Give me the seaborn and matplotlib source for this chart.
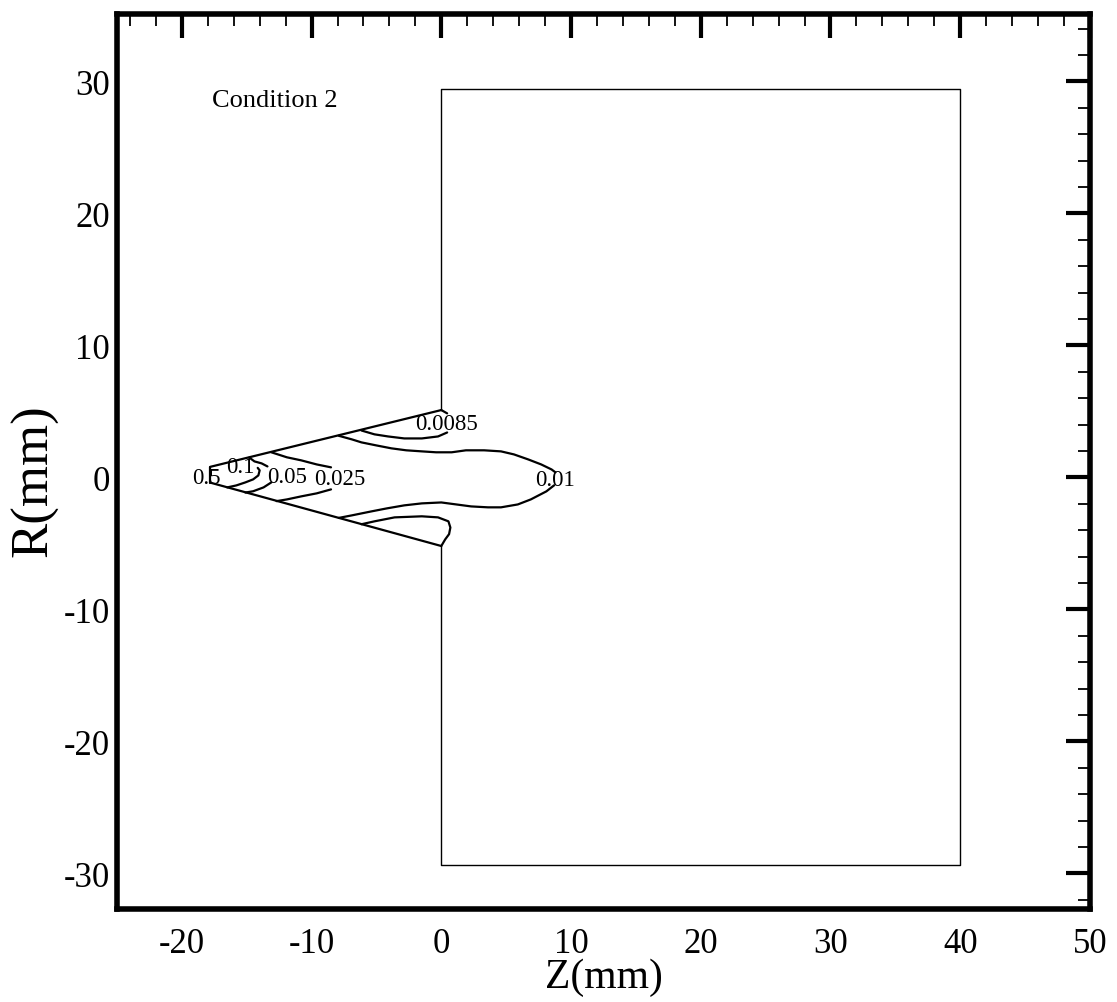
import pandas as pd
import matplotlib
matplotlib.use("Agg")
import matplotlib.pyplot as plt
from matplotlib.ticker import MultipleLocator
import seaborn as sns

# ---- geometry (z, r in mm) ----
wedge_upper_z = [-17.8, 0.0]
wedge_upper_r = [0.8, 5.1]
wedge_lower_z = [-17.8, 0.0]
wedge_lower_r = [-0.4, -5.2]
inlet_z = [-17.8, -17.8]
inlet_r = [0.8, -0.4]
chamber_z = [0.0, 0.0, 40.0, 40.0, 0.0, 0.0]
chamber_r = [5.1, 29.4, 29.4, -29.4, -29.4, -5.2]

# ---- contour lines (broken where the level labels sit) ----
c01_z = [-14.15, -14.0, -14.1, -14.5, -15.1, -15.8, -16.5]
c01_r = [0.72, 0.53, 0.15, -0.15, -0.38, -0.61, -0.76]

c005_up_z = [-14.8, -14.4, -13.85, -13.4]
c005_up_r = [1.5, 1.21, 1.06, 0.83]
c005_lo_z = [-13.1, -13.7, -14.5, -15.1]
c005_lo_r = [-0.38, -0.76, -1.05, -1.15]

c0025_up_z = [-13.1, -11.9, -10.8, -9.6, -8.5]
c0025_up_r = [1.9, 1.52, 1.29, 0.98, 0.76]
c0025_lo_z = [-8.5, -9.6, -10.8, -11.9, -12.7]
c0025_lo_r = [-0.91, -1.21, -1.44, -1.67, -1.8]

c001_up_z = [-7.9, -6.9, -6.15, -5.0, -3.85, -2.7, -1.5, -0.4, 0.8, 1.9, 3.3,
             4.6, 5.6, 6.7, 7.7, 8.5, 8.8]
c001_up_r = [3.15, 2.88, 2.65, 2.42, 2.2, 2.05, 1.97, 1.9, 1.9, 2.05, 2.05,
             1.97, 1.74, 1.36, 0.98, 0.6, 0.38]
c001_lo_z = [8.7, 8.1, 6.9, 5.9, 4.6, 3.6, 2.3, 1.15, 0.0, -1.5, -2.85, -4.2,
             -5.4, -6.9, -7.9]
c001_lo_r = [-0.6, -1.06, -1.67, -2.05, -2.27, -2.27, -2.2, -2.05, -1.9, -1.97,
             -2.12, -2.35, -2.58, -2.88, -3.07]

c00085_up_z = [-6.15, -5.15, -4.1, -2.85, -1.5, -0.25, 0.45]
c00085_up_r = [3.55, 3.26, 3.1, 2.95, 2.95, 3.1, 3.4]
c00085_tip_z = [0.0, 0.45]
c00085_tip_r = [5.1, 4.85]
c00085_lo_z = [-6.15, -5.15, -3.6, -1.5, -0.25, 0.55, 0.7, 0.6, 0.3, 0.0]
c00085_lo_r = [-3.55, -3.33, -3.03, -2.95, -3.03, -3.33, -3.8, -4.3, -4.7, -5.2]

# ---- level labels ----
level_text = ["0.5", "0.1", "0.05", "0.025", "0.0085", "0.01"]
level_z = [-18.1, -15.5, -11.9, -7.8, 0.42, 8.8]
level_r = [0.0, 0.83, 0.05, -0.1, 4.1, -0.15]

panel_title = "Condition 2"
x_ticks = [-20, -10, 0, 10, 20, 30, 40, 50]
y_ticks = [-30, -20, -10, 0, 10, 20, 30]


def segments_frame(pairs):
    rows = []
    for name, zs, rs in pairs:
        for z, r in zip(zs, rs):
            rows.append({"z": z, "r": r, "seg": name})
    return pd.DataFrame(rows)


lines_df = segments_frame([
    ("wedge_upper", wedge_upper_z, wedge_upper_r),
    ("wedge_lower", wedge_lower_z, wedge_lower_r),
    ("inlet", inlet_z, inlet_r),
    ("c01", c01_z, c01_r),
    ("c005_up", c005_up_z, c005_up_r),
    ("c005_lo", c005_lo_z, c005_lo_r),
    ("c0025_up", c0025_up_z, c0025_up_r),
    ("c0025_lo", c0025_lo_z, c0025_lo_r),
    ("c001_up", c001_up_z, c001_up_r),
    ("c001_lo", c001_lo_z, c001_lo_r),
    ("c00085_up", c00085_up_z, c00085_up_r),
    ("c00085_tip", c00085_tip_z, c00085_tip_r),
    ("c00085_lo", c00085_lo_z, c00085_lo_r),
])
chamber_df = segments_frame([("chamber", chamber_z, chamber_r)])

sns.set_style("white")
plt.rcParams["font.family"] = ["Liberation Serif", "DejaVu Serif"]
plt.rcParams["axes.unicode_minus"] = False

fig = plt.figure(figsize=(11.17, 10.03), dpi=100)
ax = fig.add_axes([0.1047, 0.0927, 0.8711, 0.8923])

sns.lineplot(data=chamber_df, x="z", y="r", units="seg", estimator=None,
             sort=False, color="black", linewidth=1.0, ax=ax, legend=False)
sns.lineplot(data=lines_df, x="z", y="r", units="seg", estimator=None,
             sort=False, color="black", linewidth=1.6, ax=ax, legend=False)

for t, z, r in zip(level_text, level_z, level_r):
    ax.text(z, r, t, ha="center", va="center", fontsize=16.5, color="black")

ax.text(-17.7, 28.6, panel_title, ha="left", va="center", fontsize=19,
        color="black")

ax.set_xlim(-25, 50)
ax.set_ylim(-32.7, 35.1)
ax.set_xticks(x_ticks)
ax.set_yticks(y_ticks)
ax.xaxis.set_minor_locator(MultipleLocator(2))
ax.yaxis.set_minor_locator(MultipleLocator(2))
ax.tick_params(which="both", direction="in", top=True, right=True,
               colors="black", labelsize=25, labelcolor="black")
ax.tick_params(which="major", length=17, width=3)
ax.tick_params(which="minor", length=8.5, width=1.3)
ax.tick_params(axis="x", which="major", pad=13)
ax.tick_params(axis="y", which="major", pad=5)
for s in ax.spines.values():
    s.set_linewidth(4)
    s.set_color("black")

ax.set_xlabel("Z(mm)", fontsize=30, labelpad=-2, color="black")
ax.set_ylabel("R(mm)", fontsize=38, labelpad=4, color="black")
ax.yaxis.label.set_y(0.48)

fig.savefig("out.png", dpi=100, facecolor="white")
